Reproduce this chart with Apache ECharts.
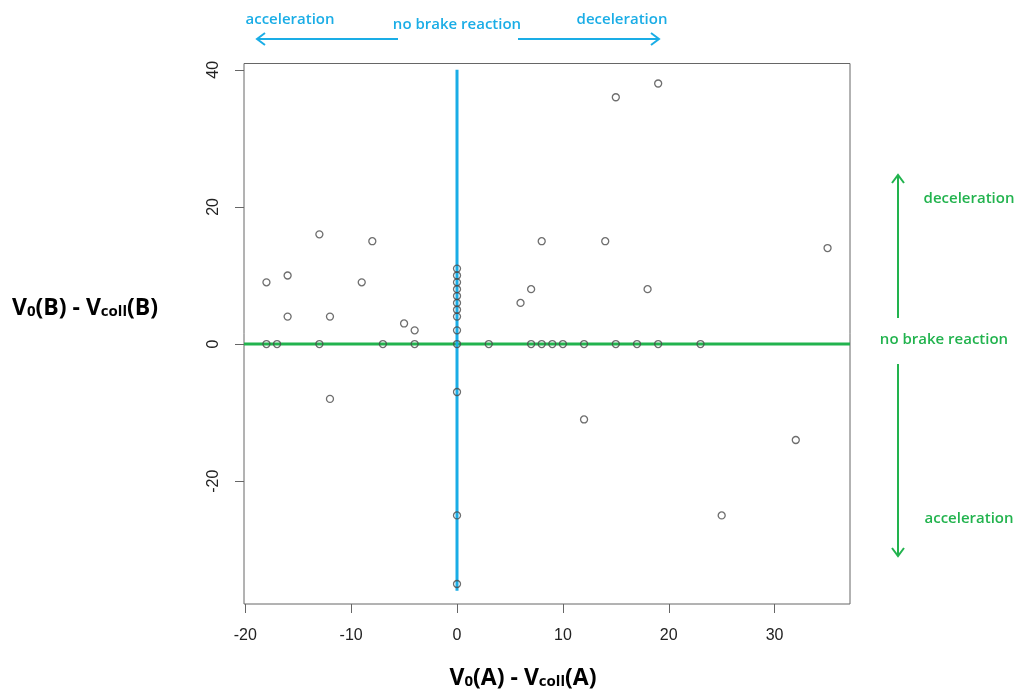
<!DOCTYPE html>
<html>
<head>
<meta charset="utf-8">
<script src="https://cdn.jsdelivr.net/npm/echarts@6/dist/echarts.min.js"></script>
<style>
  html, body { margin: 0; padding: 0; background: #fff; }
  #chart { width: 1018px; height: 689px; }
</style>
</head>
<body>
<div id="chart"></div>
<script>
// Speed change before the collision: vehicle A (x) against vehicle B (y)
const pointsX = [19, 15, 35, -13, -8, 8, 14, -18, -16, -9, 7, 18, 6, -16, -12, -5, -4, -12, 12, 32, 25,
  0, 0, 0, 0, 0, 0, 0, 0, 0, 0, 0, 0, 0,
  -18, -17, -13, -7, -4, 3, 7, 8, 9, 10, 12, 15, 17, 19, 23];
const pointsY = [38, 36, 14, 16, 15, 15, 15, 9, 10, 9, 8, 8, 6, 4, 4, 3, 2, -8, -11, -14, -25,
  11, 10, 9, 8, 7, 6, 5, 4, 2, 0, -7, -25, -35,
  0, 0, 0, 0, 0, 0, 0, 0, 0, 0, 0, 0, 0, 0, 0];

// Axis ranges and tick labels
const xRange = [-20.12, 37.12];
const yRange = [-37.92, 40.92];
const xTicks = [-20, -10, 0, 10, 20, 30];
const yTicks = [-20, 0, 20, 40];

// Reference lines: "no brake reaction" for each vehicle
const hLineX = [-20.12, 37.12];
const hLineY = [0, 0];
const vLineX = [0, 0];
const vLineY = [40, -36];

const BLUE = '#1aade6';
const GREEN = '#22b34e';
const LABEL_FONT = '"Open Sans", sans-serif';

const scatterData = pointsX.map((x, i) => [x, pointsY[i]]);

const chart = echarts.init(document.getElementById('chart'), null, { renderer: 'canvas' });

function arrow(x1, y1, x2, y2, color) {
  // shaft from (x1,y1) to the head at (x2,y2)
  const dx = x2 - x1, dy = y2 - y1;
  const len = Math.hypot(dx, dy);
  const ux = dx / len, uy = dy / len;
  const hs = 8;
  const px = -uy, py = ux;
  return [
    { type: 'line', shape: { x1, y1, x2, y2 }, style: { stroke: color, lineWidth: 2 } },
    {
      type: 'polyline',
      shape: { points: [
        [x2 - ux * hs + px * hs * 0.75, y2 - uy * hs + py * hs * 0.75],
        [x2, y2],
        [x2 - ux * hs - px * hs * 0.75, y2 - uy * hs - py * hs * 0.75]
      ] },
      style: { stroke: color, lineWidth: 2, fill: null }
    }
  ];
}

function label(text, x, y, color, size) {
  return {
    type: 'text', x, y,
    style: { text, fill: color, font: `600 ${size}px ${LABEL_FONT}`, align: 'center', verticalAlign: 'middle' }
  };
}

function axisTitle(rich, x, y, color) {
  return {
    type: 'text', x, y,
    style: {
      text: rich, align: 'center', verticalAlign: 'middle',
      rich: {
        a: { fontFamily: LABEL_FONT, fontWeight: 'bold', fontSize: 23, lineHeight: 29, color, verticalAlign: 'bottom' },
        s: { fontFamily: LABEL_FONT, fontWeight: 'bold', fontSize: 15, lineHeight: 14, color, verticalAlign: 'bottom' }
      }
    }
  };
}

const graphics = [].concat(
  label('acceleration', 290, 20, BLUE, 15),
  label('no brake reaction', 457, 25, BLUE, 15),
  label('deceleration', 622, 20, BLUE, 15),
  arrow(398, 39, 257, 39, BLUE),
  arrow(518, 39, 659, 39, BLUE),
  label('deceleration', 969, 199, GREEN, 15),
  label('no brake reaction', 944, 340, GREEN, 15),
  label('acceleration', 969, 519, GREEN, 15),
  arrow(898, 318, 898, 175, GREEN),
  arrow(898, 364, 898, 556, GREEN),
  axisTitle('{a|V}{s|0}{a|(B) - V}{s|coll}{a|(B)}', 85, 305, GREEN),
  axisTitle('{a|V}{s|0}{a|(A) - V}{s|coll}{a|(A)}', 523, 675, BLUE)
);

chart.setOption({
  animation: false,
  backgroundColor: '#ffffff',
  grid: {
    left: 244, right: 168, top: 63.5, bottom: 85,
    show: true, borderColor: '#666', borderWidth: 1, backgroundColor: 'transparent'
  },
  xAxis: {
    type: 'value', min: xRange[0], max: xRange[1],
    splitLine: { show: false },
    axisLine: { show: false, onZero: false },
    axisTick: { show: true, length: 9, customValues: xTicks, lineStyle: { color: '#666', width: 1 } },
    axisLabel: { customValues: xTicks, fontSize: 16, color: '#222', margin: 24, fontFamily: '"Liberation Sans", Arial, sans-serif' }
  },
  yAxis: {
    type: 'value', min: yRange[0], max: yRange[1],
    splitLine: { show: false },
    axisLine: { show: false, onZero: false },
    axisTick: { show: true, length: 9, customValues: yTicks, lineStyle: { color: '#666', width: 1 } },
    axisLabel: { customValues: yTicks, fontSize: 16, color: '#222', margin: 22, rotate: 90, fontFamily: '"Liberation Sans", Arial, sans-serif' }
  },
  graphic: graphics,
  series: [
    {
      type: 'line', data: hLineX.map((x, i) => [x, hLineY[i]]),
      symbol: 'none', silent: true, z: 2,
      lineStyle: { color: GREEN, width: 3 }
    },
    {
      type: 'line', data: vLineX.map((x, i) => [x, vLineY[i]]),
      symbol: 'none', silent: true, z: 2,
      lineStyle: { color: BLUE, width: 3 }
    },
    {
      type: 'scatter', data: scatterData, z: 3,
      symbol: 'circle', symbolSize: 7,
      itemStyle: { color: 'rgba(255,255,255,0)', borderColor: '#4a4a4a', borderWidth: 1.3 }
    }
  ]
});
</script>
</body>
</html>
